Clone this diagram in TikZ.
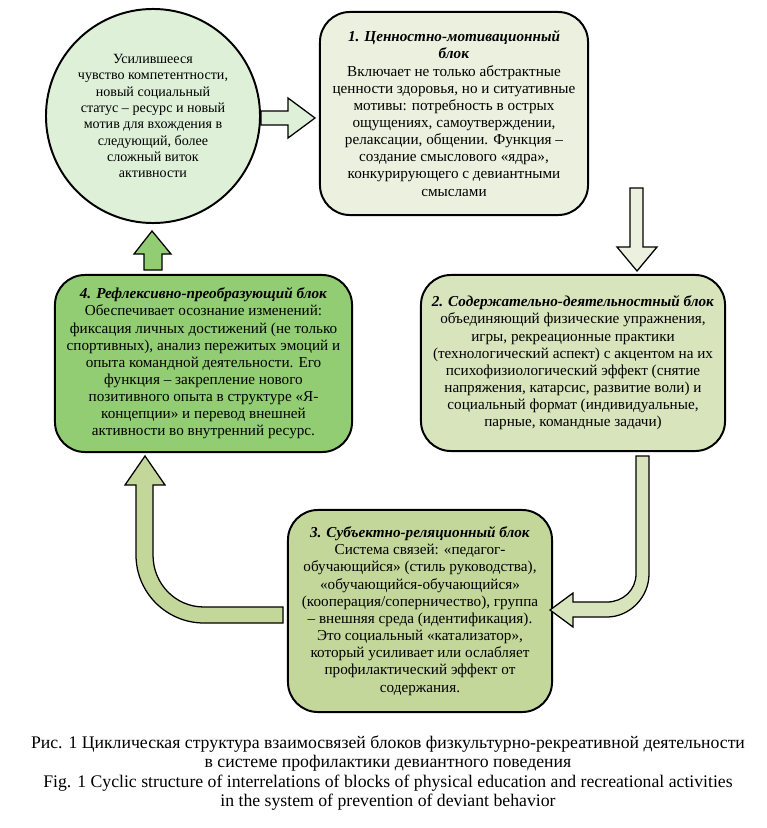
\documentclass[tikz,border=0pt]{standalone}
\usepackage{fontspec}
\setmainfont{Liberation Serif}
\definecolor{krugfill}{RGB}{222,240,216}
\definecolor{blokA}{RGB}{235,241,222}
\definecolor{blokB}{RGB}{216,228,188}
\definecolor{blokC}{RGB}{196,215,155}
\definecolor{blokD}{RGB}{147,205,115}
\newcommand\zag[1]{\textbf{\textit{#1}}}
\tikzset{
  blok/.style={draw, line width=1.4pt, rounded corners=0.75cm, align=center, inner sep=2pt,
    font=\fontsize{10.8}{12.2}\selectfont},
  strelka/.style={draw, line width=0.9pt, line join=miter},
}
\begin{document}
\begin{tikzpicture}[x=0.025cm,y=-0.025cm]
\useasboundingbox (0,0) rectangle (767,828);
% bloki
\node[circle, draw, line width=1.4pt, fill=krugfill, minimum size=5.35cm, align=center, inner sep=0pt,
  font=\fontsize{10}{11.6}\selectfont] (krug) at (153,116) {Усилившееся\\ чувство компетентности,\\ новый социальный\\ статус – ресурс и новый\\ мотив для вхождения в\\ следующий, более\\ сложный виток\\ активности};
\node[blok, fill=blokA, minimum width=6.7cm, minimum height=5.075cm] (blok1) at (454,113.5)
  {\zag{1. Ценностно-мотивационный}\\ \zag{блок}\\ Включает не только абстрактные\\ ценности здоровья, но и ситуативные\\ мотивы: потребность в острых\\ ощущениях, самоутверждении,\\ релаксации, общении. Функция –\\ создание смыслового «ядра»,\\ конкурирующего с девиантными\\ смыслами};
\node[blok, fill=blokB, minimum width=7.6cm, minimum height=4.4cm] (blok2) at (573,363)
  {\zag{2. Содержательно-деятельностный блок}\\ объединяющий физические упражнения,\\ игры, рекреационные практики\\ (технологический аспект) с акцентом на их\\ психофизиологический эффект (снятие\\ напряжения, катарсис, развитие воли) и\\ социальный формат (индивидуальные,\\ парные, командные задачи)};
\node[blok, fill=blokC, minimum width=6.6cm, minimum height=5.05cm] (blok3) at (420,611)
  {\zag{3. Субъектно-реляционный блок}\\ Система связей: «педагог-\\ обучающийся» (стиль руководства),\\ «обучающийся-обучающийся»\\ (кооперация/соперничество), группа\\ – внешняя среда (идентификация).\\ Это социальный «катализатор»,\\ который усиливает или ослабляет\\ профилактический эффект от\\ содержания.};
\node[blok, fill=blokD, minimum width=7.425cm, minimum height=4.425cm] (blok4) at (203.5,363.5)
  {\zag{4. Рефлексивно-преобразующий блок}\\ Обеспечивает осознание изменений:\\ фиксация личных достижений (не только\\ спортивных), анализ пережитых эмоций и\\ опыта командной деятельности. Его\\ функция – закрепление нового\\ позитивного опыта в структуре «Я-\\ концепции» и перевод внешней\\ активности во внутренний ресурс.};
% strelki
\draw[strelka, fill=krugfill] (261,111) -- (288,111) -- (288,98) -- (315,118) -- (288,138) -- (288,125) -- (261,125) -- cycle;
\draw[strelka, fill=blokA] (630,188) -- (643,188) -- (643,247) -- (657,247) -- (637,271) -- (617,247) -- (630,247) -- cycle;
\draw[strelka, fill=blokB] (636,456) -- (649,456) -- (649,574) .. controls (649,597) and (630,617) .. (607,617)
  -- (573,617) -- (573,627) -- (550,610) -- (573,593) -- (573,602) -- (607,602)
  .. controls (623,602) and (636,590) .. (636,574) -- cycle;
\draw[strelka, fill=blokC] (283,607) -- (283,623) -- (204,623) .. controls (166.4,623) and (136,592.6) .. (136,555)
  -- (136,485) -- (125,485) -- (145,456) -- (165,485) -- (153,485) -- (153,555)
  .. controls (153,583.7) and (175.3,607) .. (204,607) -- cycle;
\draw[strelka, fill=blokD] (144,270) -- (144,254) -- (134,254) -- (152,231) -- (171,254) -- (162,254) -- (162,270) -- cycle;
% podpis
\node[align=center, font=\fontsize{12.6}{13.6}\selectfont] (podpis) at (388,773)
  {Рис. 1 Циклическая структура взаимосвязей блоков физкультурно-рекреативной деятельности\\ в системе профилактики девиантного поведения\\ Fig. 1 Cyclic structure of interrelations of blocks of physical education and recreational activities\\ in the system of prevention of deviant behavior};
\end{tikzpicture}
\end{document}
